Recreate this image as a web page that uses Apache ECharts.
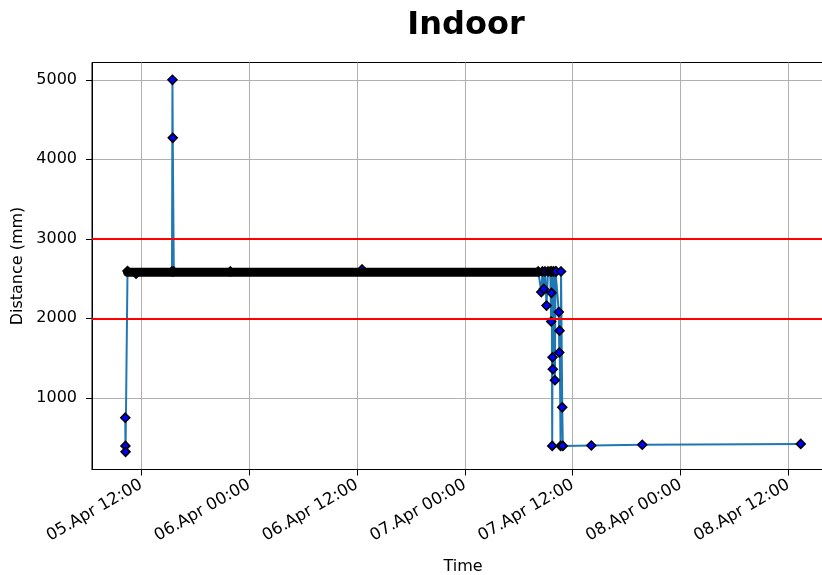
<!DOCTYPE html>
<html>
<head>
<meta charset="utf-8">
<script src="https://cdn.jsdelivr.net/npm/echarts@6/dist/echarts.min.js"></script>
<style>
  html, body { margin: 0; padding: 0; background: #fff; }
  #main { width: 822px; height: 575px; }
</style>
</head>
<body>
<div id="main"></div>
<script>
// readings (April, "DD HH:mm") and distance in mm
const mainTimes = [
  "05 10:13", "05 10:14", "05 10:15", "05 10:28", "05 11:25", "05 15:25",
  "05 15:28", "05 15:30", "05 15:37", "05 21:55", "06 12:34", "07 08:10",
  "07 08:30", "07 08:38", "07 08:47", "07 08:55", "07 09:05", "07 09:15",
  "07 09:30", "07 09:36", "07 09:38", "07 09:40", "07 09:43", "07 09:45",
  "07 09:47", "07 09:52", "07 10:01", "07 10:05", "07 10:10", "07 10:27",
  "07 10:30", "07 10:32", "07 10:39", "07 10:42", "07 10:50", "07 10:54",
  "07 14:04", "07 19:44", "08 13:22"
];
const mainValues = [
  750, 395, 320, 2595, 2560, 2590,
  5000, 4270, 2590, 2590, 2615, 2590,
  2330, 2590, 2370, 2590, 2160, 2590,
  2590, 1960, 2320, 2590, 395, 1510,
  1360, 2590, 1220, 2590, 2590, 2080,
  1570, 1845, 395, 2590, 880, 395,
  400, 410, 420
];
// dense plateau of readings, drawn as the black band
const bandTimes = ["05 10:28", "05 16:00", "05 22:00", "06 04:00", "06 10:00", "06 16:00", "06 22:00", "07 04:00", "07 08:10"];
const bandValues = [2580, 2580, 2580, 2580, 2580, 2580, 2580, 2580, 2580];
const limitValues = [2000, 3000];
const yTicks = [1000, 2000, 3000, 4000, 5000];
const xTicks = ["05 12:00", "06 00:00", "06 12:00", "07 00:00", "07 12:00", "08 00:00", "08 12:00"];
const months = ["Jan", "Feb", "Mar", "Apr", "May", "Jun", "Jul", "Aug", "Sep", "Oct", "Nov", "Dec"];

function ts(s) {
  const day = +s.slice(0, 2), h = +s.slice(3, 5), m = +s.slice(6, 8);
  return Date.UTC(2024, 3, day, h, m);
}
function pad(n) { return n < 10 ? "0" + n : "" + n; }

const mainData = mainTimes.map((t, i) => [ts(t), mainValues[i]]);
const bandData = bandTimes.map((t, i) => [ts(t), bandValues[i]]);

var myChart = echarts.init(document.getElementById("main"));
const font = "DejaVu Sans";

option = {
  animation: false,
  textStyle: { fontFamily: font },
  title: {
    text: "Indoor",
    left: 461,
    textAlign: "center",
    top: 5,
    textStyle: { fontFamily: font, fontSize: 32, fontWeight: "bold", color: "#000" },
  },
  grid: {
    left: 92, right: -12, top: 62.5, bottom: 105.5,
    outerBoundsMode: "none",
    containLabel: false,
    show: true, borderColor: "#000", borderWidth: 1,
  },
  xAxis: {
    type: "value",
    min: ts("05 06:31"),
    max: ts("08 17:04"),
    name: "Time",
    nameLocation: "middle",
    nameGap: 89,
    nameTextStyle: { fontFamily: font, fontSize: 16, color: "#000" },
    axisLine: { show: true, onZero: false, lineStyle: { color: "#000", width: 1 } },
    axisTick: { show: true, length: 6, lineStyle: { color: "#000" }, customValues: xTicks.map(ts) },
    axisLabel: {
      customValues: xTicks.map(ts),
      rotate: 30,
      margin: 14,
      fontFamily: font,
      fontSize: 16.5,
      color: "#000",
      formatter: function (v) {
        const d = new Date(v);
        return pad(d.getUTCDate()) + "." + months[d.getUTCMonth()] + " " +
          pad(d.getUTCHours()) + ":" + pad(d.getUTCMinutes());
      },
    },
    splitLine: { show: true, lineStyle: { color: "#b0b0b0", width: 1 } },
  },
  yAxis: {
    type: "value",
    min: 98,
    max: 5218,
    name: "Distance (mm)",
    nameLocation: "middle",
    nameGap: 60,
    nameTextStyle: { fontFamily: font, fontSize: 16, color: "#000" },
    axisLine: { show: true, onZero: false, lineStyle: { color: "#000", width: 1 } },
    axisTick: { show: true, length: 6, lineStyle: { color: "#000" }, customValues: yTicks },
    axisLabel: {
      customValues: yTicks, margin: 15, fontFamily: font, fontSize: 16, color: "#000",
      formatter: function (v) { return String(v); },
    },
    splitLine: { show: true, lineStyle: { color: "#b0b0b0", width: 1 } },
  },
  series: [
    {
      type: "line",
      name: "distance",
      data: mainData,
      z: 2,
      showSymbol: true,
      showAllSymbol: true,
      symbol: "diamond",
      symbolSize: 9,
      itemStyle: { color: "#0000ff", borderColor: "#000", borderWidth: 1.5 },
      lineStyle: { color: "#1f77b4", width: 2 },
      emphasis: { disabled: true },
    },
    {
      type: "line",
      name: "plateau",
      data: bandData,
      z: 3,
      showSymbol: false,
      lineStyle: { color: "#000", width: 9, cap: "round" },
      emphasis: { disabled: true },
    },
    {
      type: "line",
      name: "limits",
      data: [],
      z: 4,
      markLine: {
        silent: true,
        symbol: "none",
        label: { show: false },
        lineStyle: { color: "#ff0000", width: 2, type: "solid" },
        data: limitValues.map(v => ({ yAxis: v })),
      },
    },
  ],
};

myChart.setOption(option);
</script>
</body>
</html>
